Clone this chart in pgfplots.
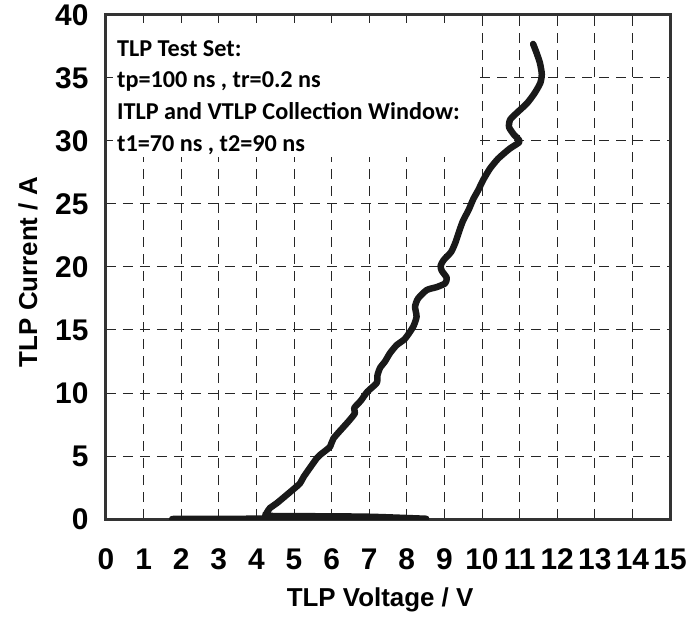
\documentclass[border=0pt]{standalone}
\usepackage{pgfplots}
\pgfplotsset{compat=1.18}
\usepackage{fontspec}
\setmainfont{Liberation Sans}
\newfontfamily\calfont{Carlito}
\begin{document}
\begin{tikzpicture}
\begin{axis}[
  width=564bp, height=504bp, scale only axis,
  xmin=0, xmax=15, ymin=0, ymax=40,
  xtick={0,1,...,15}, ytick={0,5,...,40},
  major tick length=0pt,
  /pgf/number format/assume math mode=true,
  tick label style={font=\bfseries\fontsize{30}{30}\selectfont},
  xticklabel style={yshift=-26bp},
  yticklabel style={xshift=-14bp},
  grid=major,
  major grid style={dash pattern=on 10bp off 7bp, line width=1bp, black!85},
  axis line style={line width=3bp, black!80},
  xlabel={TLP Voltage / V},
  ylabel={TLP Current / A},
  label style={font=\bfseries\fontsize{26}{26}\selectfont},
  xlabel style={anchor=center, at={(axis description cs:0.486,-0.1607)}},
  ylabel style={anchor=center, at={(axis description cs:-0.1383,0.49)}},
]
\coordinate (O) at (rel axis cs:0,0);
\fill[white] (axis cs:0.19,28.73) rectangle (axis cs:9.81,39.37);
\node[anchor=base west, inner sep=0pt, font=\calfont\bfseries\fontsize{24.3}{24.3}\selectfont] at (axis cs:0.29,36.67) {TLP Test Set:};
\node[anchor=base west, inner sep=0pt, font=\calfont\bfseries\fontsize{24.3}{24.3}\selectfont] at (axis cs:0.29,34.21) {tp=100 ns , tr=0.2 ns};
\node[anchor=base west, inner sep=0pt, font=\calfont\bfseries\fontsize{24.3}{24.3}\selectfont] at (axis cs:0.29,31.67) {ITLP and VTLP Collection Window:};
\node[anchor=base west, inner sep=0pt, font=\calfont\bfseries\fontsize{24.3}{24.3}\selectfont] at (axis cs:0.29,29.13) {t1=70 ns , t2=90 ns};
\addplot[line width=6.5bp, color=black!90, line join=round, line cap=round, smooth, tension=0.4] coordinates {
(1.76,0) (3.0,0.01) (4.2,0.03) (5.0,0.08) (6.0,0.12) (7.0,0.12) (8.0,0.06) (8.5,0.02)
(7.0,0.18) (5.5,0.22) (4.3,0.25) (4.27,0.45)
(4.36,0.87) (4.54,1.25) (4.98,2.35) (5.16,2.83) (5.26,3.36) (5.6,4.8) (5.69,5.08) (5.96,5.74)
(6.05,6.4) (6.45,7.75) (6.62,8.4) (6.6,8.8) (6.78,9.4) (6.95,10.1) (7.2,10.8) (7.22,11.4)
(7.29,12.0) (7.42,12.5) (7.55,13.15) (7.73,13.8) (7.95,14.3) (8.17,15.26) (8.26,16.06)
(8.22,16.85) (8.3,17.5) (8.53,18.17) (8.79,18.4) (9.02,18.7) (9.06,19.15) (8.93,19.7)
(8.9,20.1) (8.98,20.55) (9.18,21.2) (9.3,22.0) (9.4,22.9) (9.5,23.7) (9.64,24.5) (9.77,25.4)
(9.9,26.1) (10.03,26.9) (10.21,27.8) (10.43,28.6) (10.74,29.4) (11.0,29.95)
(10.85,30.5) (10.72,31.1) (10.75,31.7) (10.95,32.3) (11.2,33.0) (11.4,33.8) (11.55,34.6)
(11.59,35.3) (11.54,36.2) (11.45,37.0) (11.36,37.7)
};
\end{axis}
\pgfresetboundingbox
\path[use as bounding box] (O) ++(-106bp,-118bp) rectangle ++(687bp,637bp);
\end{tikzpicture}
\end{document}
